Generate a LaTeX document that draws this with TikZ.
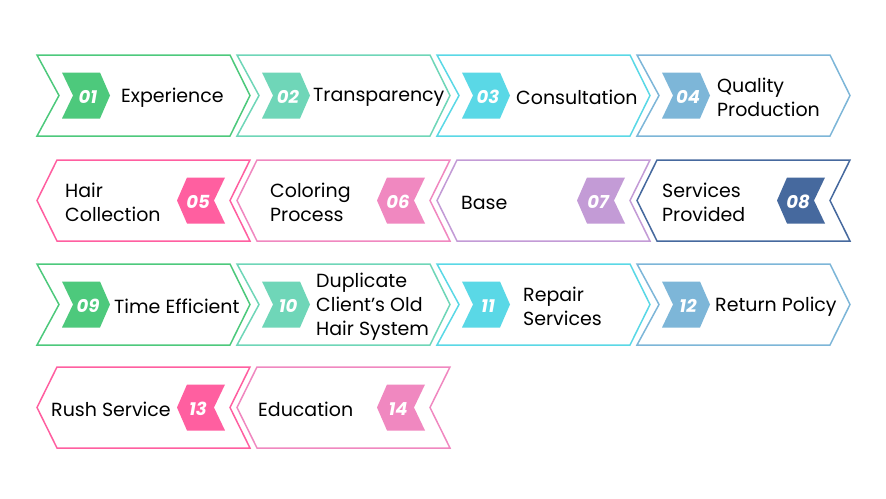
\documentclass[tikz,border=0pt]{standalone}
\usepackage{fontspec}
\setmainfont{Poppins}

\definecolor{cgreen}{RGB}{77,201,124}
\definecolor{cmint}{RGB}{111,214,184}
\definecolor{ccyan}{RGB}{90,216,230}
\definecolor{csky}{RGB}{125,182,216}
\definecolor{cpink}{RGB}{255,95,160}
\definecolor{crose}{RGB}{240,136,192}
\definecolor{clav}{RGB}{195,155,214}
\definecolor{cnavy}{RGB}{70,105,158}

% chevron pointing right: name, x0, ytop, colour, number, text offset, text
\newcommand\chevR[7]{%
  \draw[chevline, draw=#4] (#2,#3) -- ++(193,0) -- ++(20,40.5) -- ++(-20,40.5) -- ++(-193,0) -- ++(22,-40.5) -- cycle;
  \fill[#4] ({#2+25},{#3+17.5}) -- ++(38,0) -- ++(10,23) -- ++(-10,23) -- ++(-38,0) -- ++(11,-23) -- cycle;
  \node[numtext] (#1n) at ({#2+51},{#3+42}) {#5};
  \node[labeltext] (#1t) at ({#2+#6},{#3+42.5}) {#7};
}
% chevron pointing left: same arguments
\newcommand\chevL[7]{%
  \draw[chevline, draw=#4] ({#2+20},#3) -- ++(193,0) -- ++(-20,40.5) -- ++(20,40.5) -- ++(-193,0) -- ++(-20,-40.5) -- cycle;
  \fill[#4] ({#2+188},{#3+17.5}) -- ++(-38,0) -- ++(-10,23) -- ++(10,23) -- ++(38,0) -- ++(-11,-23) -- cycle;
  \node[numtext] (#1n) at ({#2+161},{#3+42}) {#5};
  \node[labeltext] (#1t) at ({#2+#6},{#3+42.5}) {#7};
}

\begin{document}
\begin{tikzpicture}[
    x=1pt, y=-1pt,
    chevline/.style={line width=1.5pt, line join=miter, fill=white},
    numtext/.style={text=white, font=\fontsize{18}{20}\selectfont\bfseries\itshape, inner sep=0pt},
    labeltext/.style={anchor=west, align=left, inner sep=0pt, font=\fontsize{19}{24}\selectfont}
  ]
  \useasboundingbox (0,0) rectangle (886,498);

  % ---- row positions ----
  \def\ya{55}
  \def\yb{160}
  \def\yc{264}
  \def\yd{367}

  % ================= ROW 1 =================
  \chevR{exp}{37}{\ya}{cgreen}{01}{84}{Experience}
  \chevR{tra}{237}{\ya}{cmint}{02}{76}{Transparency}
  \chevR{con}{437}{\ya}{ccyan}{03}{79}{Consultation}
  \chevR{qua}{637}{\ya}{csky}{04}{80}{Quality\\Production}

  % ================= ROW 2 =================
  \chevL{hai}{37}{\yb}{cpink}{05}{28}{Hair\\Collection}
  \chevL{col}{237}{\yb}{crose}{06}{33}{Coloring\\Process}
  \chevL{bas}{437}{\yb}{clav}{07}{24}{Base}
  \chevL{ser}{637}{\yb}{cnavy}{08}{25}{Services\\Provided}

  % ================= ROW 3 =================
  \chevR{tim}{37}{\yc}{cgreen}{09}{77}{Time Efficient}
  \chevR{dup}{237}{\yc}{cmint}{10}{79}{Duplicate\\Client’s Old\\Hair System}
  \chevR{rep}{437}{\yc}{ccyan}{11}{86}{Repair\\Services}
  \chevR{ret}{637}{\yc}{csky}{12}{78}{Return Policy}

  % ================= ROW 4 =================
  \chevL{rus}{37}{\yd}{cpink}{13}{14}{Rush Service}
  \chevL{edu}{237}{\yd}{crose}{14}{21}{Education}

\end{tikzpicture}
\end{document}
